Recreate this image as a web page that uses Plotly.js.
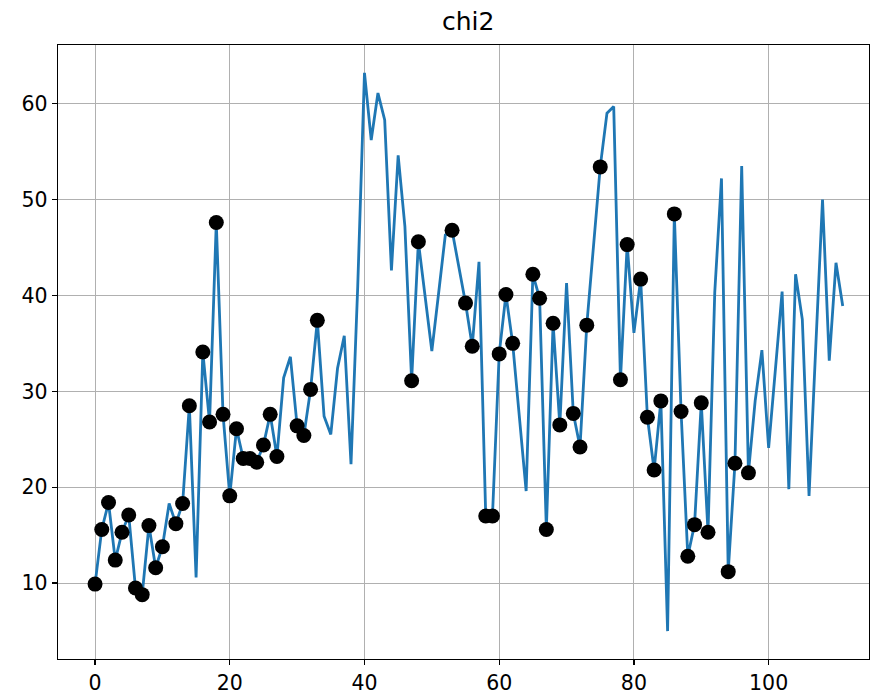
<!DOCTYPE html>
<html>
<head>
<meta charset="utf-8">
<script src="https://cdn.plot.ly/plotly-3.0.1.min.js"></script>
<style>
html,body{margin:0;padding:0;background:#fff;}
#chart{width:872px;height:697px;}
</style>
</head>
<body>
<div id="chart"></div>
<script>
// chi2 series, index 0..111
const chi2Values = [
  9.9, 15.6, 18.4, 12.4, 15.3, 17.1, 9.5, 8.8, 16.0, 11.6,
  13.8, 18.3, 16.2, 18.3, 28.5, 10.6, 34.1, 26.8, 47.6, 27.6,
  19.1, 26.1, 23.0, 23.0, 22.6, 24.4, 27.6, 23.2, 31.4, 33.6,
  26.4, 25.4, 30.2, 37.4, 27.4, 25.5, 32.4, 35.8, 22.4, 41.0,
  63.2, 56.2, 61.1, 58.3, 42.6, 54.6, 47.2, 31.1, 45.6, 39.9,
  34.2, 40.2, 46.3, 46.8, 42.8, 39.2, 34.7, 43.5, 17.0, 17.0,
  33.9, 40.1, 35.0, 27.3, 19.6, 42.2, 39.7, 15.6, 37.1, 26.5,
  41.3, 27.7, 24.2, 36.9, 45.0, 53.4, 59.0, 59.7, 31.2, 45.3,
  36.1, 41.7, 27.3, 21.8, 29.0, 5.0, 48.5, 27.9, 12.8, 16.1,
  28.8, 15.3, 40.3, 52.2, 11.2, 22.5, 53.5, 21.5, 29.0, 34.3,
  24.1, 32.3, 40.4, 19.8, 42.2, 37.5, 19.1, 34.7, 50.0, 33.2,
  43.4, 38.9
];
// indices highlighted with black dots
const markedIdx = [
  0,1,2,3,4,5,6,7,8,9,10,12,13,14,16,17,18,19,20,21,22,23,24,25,26,27,
  30,31,32,33,47,48,53,55,56,58,59,60,61,62,65,66,67,68,69,71,72,73,75,
  78,79,81,82,83,84,86,87,88,89,90,91,94,95,97
];
const xTicks = [0, 20, 40, 60, 80, 100];
const yTicks = [10, 20, 30, 40, 50, 60];
const titleText = "chi2";

const xs = chi2Values.map((_, i) => i);
const traces = [
  {
    x: xs, y: chi2Values, type: 'scatter', mode: 'lines',
    line: {color: '#1f77b4', width: 2.8}, hoverinfo: 'skip'
  },
  {
    x: markedIdx, y: markedIdx.map(i => chi2Values[i]), type: 'scatter', mode: 'markers',
    marker: {color: '#000000', size: 15}, hoverinfo: 'skip'
  }
];
const axisCommon = {
  showline: true, linecolor: '#000', linewidth: 1.3, mirror: true,
  ticks: 'outside', ticklen: 5, tickwidth: 1.3, tickcolor: '#000',
  showgrid: true, gridcolor: '#b0b0b0', gridwidth: 1,
  zeroline: false,
  tickfont: {family: 'DejaVu Sans', size: 20.5, color: '#000'}
};
const layout = {
  width: 872, height: 697,
  margin: {l: 58, r: 3, t: 45, b: 38},
  paper_bgcolor: '#fff', plot_bgcolor: '#fff',
  showlegend: false,
  title: {text: titleText, x: 0.537, xanchor: 'center', y: 0.969, yanchor: 'middle',
          font: {family: 'DejaVu Sans', size: 25, color: '#000'}},
  xaxis: Object.assign({}, axisCommon, {range: [-5.5, 114.9], tickvals: xTicks, ticktext: xTicks.map(String)}),
  yaxis: Object.assign({}, axisCommon, {range: [2.09, 66.11], tickvals: yTicks, ticktext: yTicks.map(String)})
};
Plotly.newPlot('chart', traces, layout, {displayModeBar: false, staticPlot: true});
</script>
</body>
</html>
